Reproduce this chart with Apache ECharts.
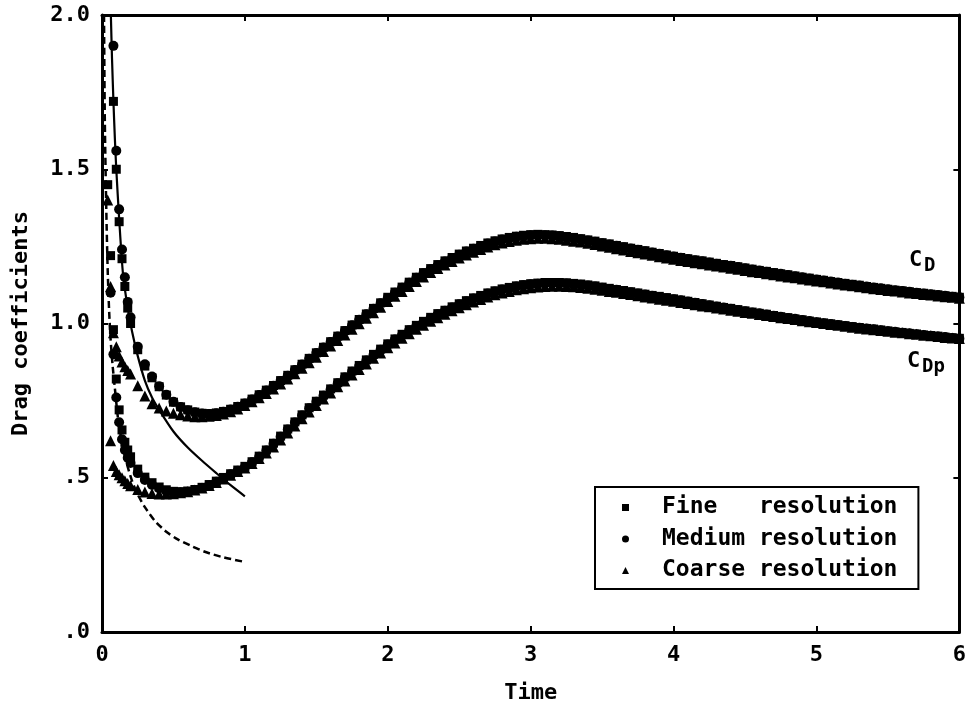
<!DOCTYPE html>
<html>
<head>
<meta charset="utf-8">
<title>Drag coefficients</title>
<script src="https://cdn.jsdelivr.net/npm/echarts/dist/echarts.min.js"></script>
<style>
  html, body { margin: 0; padding: 0; background: #fff; }
  #chart { width: 969px; height: 712px; }
</style>
</head>
<body>
<div id="chart"></div>
<script>
// Sample times shared by all resolution series
const time = [0.04,0.06,0.08,0.10,0.12,0.14,0.16,0.18,0.20,
  0.25,0.30,0.35,0.40,0.45,0.50,0.55,0.60,0.65,0.70,0.75,0.80,0.85,0.90,0.95,1.00,
  1.05,1.10,1.15,1.20,1.25,1.30,1.35,1.40,1.45,1.50,1.55,1.60,1.65,1.70,1.75,1.80,1.85,1.90,1.95,2.00,
  2.05,2.10,2.15,2.20,2.25,2.30,2.35,2.40,2.45,2.50,2.55,2.60,2.65,2.70,2.75,2.80,2.85,2.90,2.95,3.00,
  3.05,3.10,3.15,3.20,3.25,3.30,3.35,3.40,3.45,3.50,3.55,3.60,3.65,3.70,3.75,3.80,3.85,3.90,3.95,4.00,
  4.05,4.10,4.15,4.20,4.25,4.30,4.35,4.40,4.45,4.50,4.55,4.60,4.65,4.70,4.75,4.80,4.85,4.90,4.95,5.00,
  5.05,5.10,5.15,5.20,5.25,5.30,5.35,5.40,5.45,5.50,5.55,5.60,5.65,5.70,5.75,5.80,5.85,5.90,5.95,6.00];

// Total drag coefficient C_D
const cdFine = [null,null,1.72,1.50,1.33,1.21,1.12,1.05,1.00,
  0.915,0.862,0.824,0.795,0.768,0.745,0.730,0.720,0.713,0.709,0.708,0.710,0.715,0.722,0.731,0.742,
  0.755,0.769,0.784,0.799,0.815,0.832,0.850,0.868,0.887,0.905,0.923,0.941,0.959,0.977,0.995,1.013,1.031,1.049,1.067,1.085,
  1.102,1.118,1.134,1.150,1.165,1.178,1.191,1.203,1.214,1.225,1.235,1.244,1.253,1.261,1.268,1.274,1.279,1.283,1.286,1.288,
  1.289,1.288,1.287,1.285,1.282,1.279,1.275,1.271,1.267,1.262,1.258,1.253,1.249,1.244,1.240,1.236,1.231,1.227,1.222,1.218,
  1.214,1.210,1.206,1.203,1.199,1.195,1.191,1.188,1.184,1.180,1.176,1.172,1.169,1.165,1.161,1.158,1.154,1.150,1.147,1.143,
  1.140,1.136,1.133,1.130,1.127,1.124,1.120,1.117,1.114,1.111,1.108,1.106,1.103,1.100,1.098,1.095,1.093,1.090,1.088,1.085];
const cdMedium = [null,null,1.90,1.56,1.37,1.24,1.15,1.07,1.02,
  0.925,0.868,0.828,0.797,0.769,0.746,0.729,0.719,0.712,0.708,0.707,0.709,0.714,0.721,0.730,0.741,
  0.754,0.768,0.783,0.798,0.814,0.831,0.849,0.867,0.886,0.904,0.922,0.940,0.958,0.976,0.994,1.012,1.030,1.048,1.066,1.083,
  1.100,1.116,1.132,1.148,1.163,1.176,1.189,1.201,1.212,1.223,1.233,1.242,1.251,1.259,1.266,1.272,1.277,1.281,1.284,1.286,
  1.287,1.286,1.285,1.283,1.280,1.277,1.273,1.269,1.265,1.260,1.256,1.252,1.247,1.243,1.239,1.234,1.230,1.226,1.221,1.217,
  1.213,1.209,1.205,1.202,1.198,1.194,1.190,1.187,1.183,1.179,1.175,1.172,1.168,1.164,1.161,1.157,1.153,1.150,1.146,1.143,
  1.139,1.136,1.133,1.129,1.126,1.123,1.120,1.117,1.114,1.111,1.108,1.105,1.103,1.100,1.097,1.095,1.092,1.090,1.087,1.085];
const cdCoarse = [1.40,1.12,0.97,0.925,0.895,0.875,0.860,0.848,0.836,
  0.798,0.765,0.740,0.726,0.716,0.709,0.704,0.700,0.698,0.698,0.699,0.702,0.707,0.714,0.723,0.734,
  0.746,0.759,0.773,0.788,0.804,0.820,0.837,0.855,0.873,0.891,0.909,0.927,0.945,0.963,0.981,0.999,1.017,1.035,1.053,1.071,
  1.088,1.104,1.120,1.136,1.151,1.165,1.178,1.190,1.201,1.212,1.222,1.231,1.240,1.248,1.255,1.261,1.266,1.270,1.273,1.275,
  1.276,1.276,1.275,1.273,1.270,1.267,1.264,1.260,1.256,1.251,1.247,1.242,1.238,1.233,1.229,1.225,1.221,1.216,1.212,1.208,
  1.204,1.201,1.197,1.194,1.190,1.186,1.183,1.179,1.176,1.172,1.168,1.165,1.161,1.158,1.154,1.151,1.148,1.144,1.141,1.138,
  1.135,1.131,1.128,1.125,1.122,1.119,1.116,1.113,1.110,1.107,1.105,1.102,1.099,1.097,1.094,1.092,1.089,1.087,1.085,1.082];

// Pressure drag coefficient C_Dp
const cdpFine = [1.45,1.22,0.98,0.82,0.72,0.655,0.615,0.590,0.568,
  0.528,0.502,0.484,0.470,0.461,0.456,0.455,0.457,0.462,0.469,0.478,0.489,0.501,0.513,0.525,0.537,
  0.552,0.570,0.590,0.612,0.635,0.658,0.681,0.704,0.727,0.748,0.768,0.788,0.808,0.827,0.846,0.864,0.882,0.900,0.917,0.934,
  0.950,0.965,0.980,0.994,1.007,1.020,1.032,1.043,1.054,1.064,1.074,1.083,1.091,1.099,1.106,1.112,1.117,1.122,1.126,1.129,
  1.131,1.133,1.133,1.133,1.132,1.130,1.128,1.125,1.122,1.118,1.114,1.110,1.107,1.103,1.099,1.095,1.091,1.088,1.084,1.080,
  1.076,1.072,1.068,1.064,1.060,1.056,1.052,1.049,1.045,1.041,1.037,1.033,1.030,1.026,1.022,1.019,1.015,1.012,1.008,1.005,
  1.002,0.999,0.996,0.993,0.990,0.987,0.984,0.982,0.979,0.976,0.973,0.971,0.968,0.966,0.963,0.961,0.959,0.956,0.954,0.952];
const cdpMedium = [null,1.10,0.90,0.76,0.68,0.625,0.590,0.565,0.548,
  0.515,0.493,0.477,0.465,0.457,0.453,0.452,0.455,0.460,0.467,0.476,0.487,0.499,0.511,0.523,0.535,
  0.550,0.568,0.588,0.610,0.633,0.656,0.679,0.702,0.725,0.746,0.766,0.786,0.806,0.825,0.844,0.862,0.880,0.898,0.915,0.932,
  0.948,0.963,0.978,0.992,1.005,1.018,1.030,1.041,1.052,1.062,1.072,1.081,1.089,1.097,1.104,1.110,1.115,1.120,1.124,1.127,
  1.129,1.131,1.131,1.131,1.130,1.128,1.126,1.123,1.120,1.116,1.112,1.109,1.105,1.101,1.097,1.094,1.090,1.086,1.082,1.079,
  1.075,1.071,1.067,1.063,1.059,1.055,1.052,1.048,1.044,1.040,1.036,1.033,1.029,1.025,1.022,1.018,1.015,1.011,1.008,1.004,
  1.001,0.998,0.995,0.992,0.989,0.986,0.984,0.981,0.978,0.975,0.973,0.970,0.968,0.965,0.963,0.960,0.958,0.956,0.953,0.951];
const cdpCoarse = [null,0.62,0.54,0.52,0.51,0.50,0.490,0.481,0.474,
  0.462,0.454,0.449,0.447,0.447,0.448,0.451,0.455,0.460,0.467,0.475,0.485,0.496,0.508,0.520,0.532,
  0.546,0.562,0.580,0.600,0.622,0.645,0.668,0.691,0.713,0.734,0.755,0.775,0.795,0.814,0.833,0.851,0.869,0.887,0.904,0.921,
  0.937,0.952,0.967,0.981,0.994,1.007,1.019,1.030,1.041,1.051,1.061,1.070,1.078,1.086,1.093,1.099,1.104,1.109,1.113,1.116,
  1.118,1.120,1.121,1.121,1.120,1.119,1.117,1.114,1.111,1.108,1.104,1.101,1.097,1.094,1.090,1.086,1.083,1.079,1.075,1.072,
  1.068,1.065,1.061,1.057,1.054,1.050,1.047,1.043,1.040,1.036,1.033,1.029,1.026,1.023,1.019,1.016,1.013,1.009,1.006,1.003,
  1.000,0.997,0.994,0.991,0.988,0.985,0.982,0.980,0.977,0.975,0.972,0.970,0.967,0.965,0.962,0.960,0.958,0.955,0.953,0.951];

// Early-time analytical curves: C_D (solid) and C_Dp (dashed)
const solidTime  = [0.062,0.07,0.08,0.09,0.10,0.12,0.147,0.18,0.21,0.25,0.30,0.35,0.40,0.50,0.60,0.70,0.80,0.90,1.00];
const solidValue = [2.00,1.86,1.72,1.60,1.50,1.34,1.16,1.05,0.975,0.895,0.815,0.76,0.72,0.65,0.598,0.555,0.515,0.476,0.44];
const dashTime  = [0.014,0.02,0.03,0.04,0.05,0.06,0.075,0.09,0.11,0.126,0.15,0.18,0.21,0.245,0.30,0.37,0.45,0.53,0.62,0.72,0.85,1.00];
const dashValue = [2.00,1.65,1.37,1.17,1.04,0.95,0.86,0.79,0.70,0.65,0.59,0.535,0.49,0.45,0.405,0.36,0.325,0.30,0.28,0.26,0.242,0.227];

const xTicks = ['0','1','2','3','4','5','6'];
const yTicks = ['.0','.5','1.0','1.5','2.0'];
const legendNames = ['Fine   resolution','Medium resolution','Coarse resolution'];

const FONT = 'DejaVu Sans Mono';
const pairs = (ts, vs) => ts.map((t, i) => [t, vs[i]]).filter(p => p[1] != null);

const chart = echarts.init(document.getElementById('chart'), null, { renderer: 'canvas' });

const axisLine = { show: true, onZero: false, lineStyle: { color: '#000', width: 3 } };
const axisTick = { show: true, inside: true, length: 6, lineStyle: { color: '#000', width: 2 } };
const labelStyle = { fontFamily: FONT, fontSize: 22, fontWeight: 'bold', color: '#000' };

function scatter(name, values, symbol, size) {
  return {
    type: 'scatter', name: name, data: pairs(time, values),
    symbol: symbol, symbolSize: size,
    itemStyle: { color: '#000', opacity: 1 }, silent: true, z: 3
  };
}

chart.setOption({
  animation: false,
  backgroundColor: '#fff',
  grid: { left: 102, right: 9, top: 15, bottom: 80, containLabel: false },
  xAxis: [{
    type: 'value', min: 0, max: 6, interval: 1, position: 'bottom',
    axisLine: axisLine, axisTick: axisTick, splitLine: { show: false },
    axisLabel: Object.assign({ margin: 12, formatter: v => xTicks[Math.round(v)] }, labelStyle),
    name: 'Time', nameLocation: 'middle', nameGap: 50, nameTextStyle: labelStyle
  }, {
    type: 'value', min: 0, max: 6, interval: 1, position: 'top',
    axisLine: axisLine, axisTick: axisTick, splitLine: { show: false }, axisLabel: { show: false }
  }],
  yAxis: [{
    type: 'value', min: 0, max: 2, interval: 0.5, position: 'left',
    axisLine: axisLine, axisTick: axisTick, splitLine: { show: false },
    axisLabel: Object.assign({ margin: 12, formatter: v => yTicks[Math.round(v / 0.5)] }, labelStyle),
    name: 'Drag coefficients', nameLocation: 'middle', nameGap: 70, nameTextStyle: labelStyle
  }, {
    type: 'value', min: 0, max: 2, interval: 0.5, position: 'right',
    axisLine: axisLine, axisTick: axisTick, splitLine: { show: false }, axisLabel: { show: false }
  }],
  legend: {
    left: 595, top: 487, orient: 'vertical', selectedMode: false,
    backgroundColor: '#fff', borderColor: '#000', borderWidth: 2,
    padding: [9, 21, 7, 27],
    itemWidth: 7, itemHeight: 7, itemGap: 8.5,
    textStyle: { fontFamily: FONT, fontSize: 23, fontWeight: 'bold', color: '#000', lineHeight: 23, padding: [0, 0, 0, 28] },
    data: [
      { name: legendNames[0], icon: 'rect' },
      { name: legendNames[1], icon: 'circle' },
      { name: legendNames[2], icon: 'triangle' }
    ]
  },
  graphic: [
    { type: 'text', left: 909, top: 249, style: { text: 'C', font: 'bold 22px ' + FONT, fill: '#000' } },
    { type: 'text', left: 924, top: 257, style: { text: 'D', font: 'bold 19px ' + FONT, fill: '#000' } },
    { type: 'text', left: 907, top: 350, style: { text: 'C', font: 'bold 22px ' + FONT, fill: '#000' } },
    { type: 'text', left: 922, top: 358, style: { text: 'Dp', font: 'bold 19px ' + FONT, fill: '#000' } }
  ],
  series: [
    {
      type: 'line', name: 'C_D early', data: pairs(solidTime, solidValue),
      showSymbol: false, smooth: 0.25, silent: true, z: 2,
      lineStyle: { color: '#000', width: 2.2 }
    },
    {
      type: 'line', name: 'C_Dp early', data: pairs(dashTime, dashValue),
      showSymbol: false, smooth: 0.25, silent: true, z: 2,
      lineStyle: { color: '#000', width: 2.5, type: [7, 4] }
    },
    scatter(legendNames[2], cdCoarse, 'triangle', 11),
    scatter(legendNames[2], cdpCoarse, 'triangle', 11),
    scatter(legendNames[1], cdMedium, 'circle', 10),
    scatter(legendNames[1], cdpMedium, 'circle', 10),
    scatter(legendNames[0], cdFine, 'rect', 9),
    scatter(legendNames[0], cdpFine, 'rect', 9)
  ]
});
</script>
</body>
</html>
